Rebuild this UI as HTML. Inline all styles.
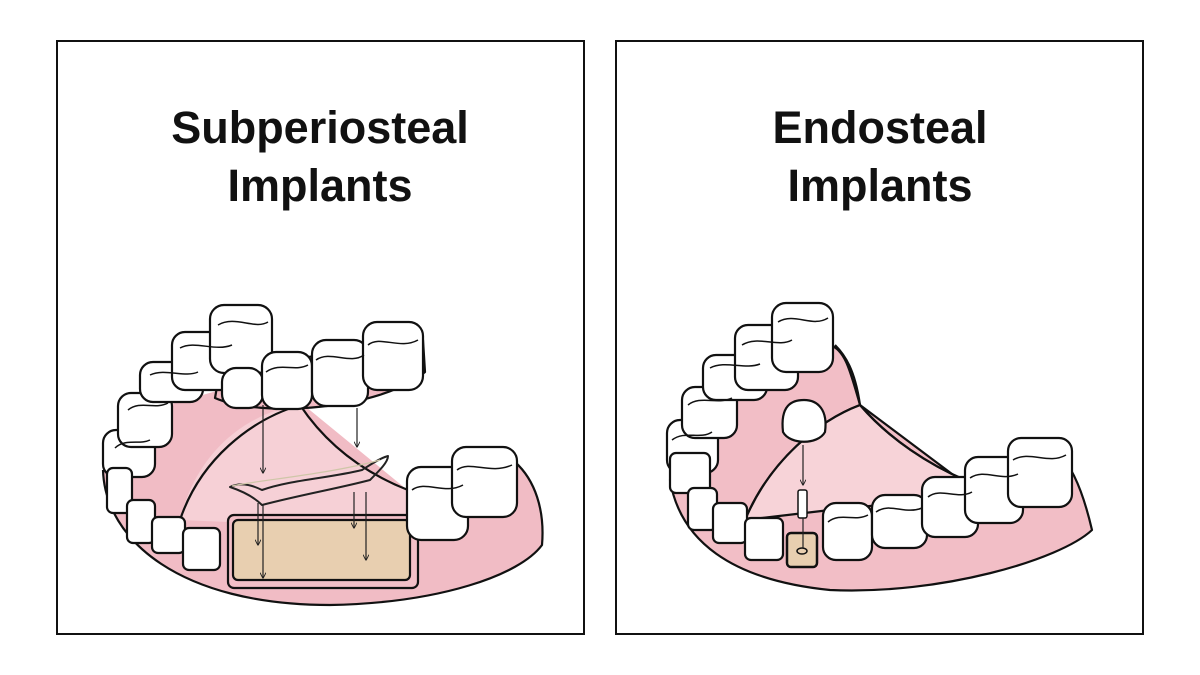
<!DOCTYPE html>
<html><head><meta charset="utf-8"><style>
html,body{margin:0;padding:0;background:#fff}
svg{display:block}
</style></head><body>
<svg width="1200" height="675" viewBox="0 0 1200 675" xmlns="http://www.w3.org/2000/svg">
<defs>
<marker id="a" viewBox="0 0 10 10" refX="9" refY="5" markerWidth="5" markerHeight="5" orient="auto"><path d="M0,0 L10,5 L0,10" fill="none" stroke="#222" stroke-width="1.5"/></marker>
</defs>
<rect x="57" y="41" width="527" height="593" fill="#fff" stroke="#111" stroke-width="2"/>
<rect x="616" y="41" width="527" height="593" fill="#fff" stroke="#111" stroke-width="2"/>
<g font-family="'Liberation Sans',sans-serif" font-weight="bold" font-size="45" text-anchor="middle" fill="#111">
<text x="320" y="143">Subperiosteal</text><text x="320" y="201">Implants</text>
<text x="880" y="143">Endosteal</text><text x="880" y="201">Implants</text>
</g>
<g stroke="#111" stroke-width="2.2" stroke-linejoin="round">
<!-- LEFT -->
<path d="M103,470 C105,540 180,605 330,605 C440,603 520,575 542,545 C545,510 535,480 515,462 L405,488 L300,402 L220,390 L150,410 L103,440 Z" fill="#f1bcc5" stroke="none"/>
<path d="M103,470 C105,540 180,605 330,605 C440,603 520,575 542,545 C545,510 535,480 515,462" fill="none"/>
<path d="M180,520 C200,440 260,410 300,405 C340,460 380,480 410,490 L405,525 L228,522 Z" fill="#f6d0d6" stroke="none"/>
<path d="M180,520 C200,460 250,420 300,405" fill="none"/>
<path d="M300,405 C330,450 370,475 408,490" fill="none"/>
<path d="M215,398 C260,418 380,410 425,372 L423,340 L220,370 Z" fill="#f1bac3"/>
<rect x="228" y="515" width="190" height="73" rx="6" fill="#f2bfc7"/>
<rect x="233" y="520" width="177" height="60" rx="5" fill="#e8cfb0"/>
<g fill="none" stroke="#222" stroke-width="2">
<path d="M230,487 C245,492 255,498 262,505 C300,495 340,488 370,480 C380,470 388,462 388,456 C380,458 370,465 362,470 C330,478 290,480 262,490 C252,485 240,482 230,487 Z"/>
<path d="M232,486 C260,480 330,474 380,460" stroke="#cfc6a8" stroke-width="1.2"/>
</g>
<g fill="#fff">
<rect x="103" y="430" width="52" height="47" rx="13"/>
<rect x="118" y="393" width="54" height="54" rx="13"/>
<rect x="140" y="362" width="63" height="40" rx="13"/>
<rect x="172" y="332" width="65" height="58" rx="13"/>
<rect x="210" y="305" width="62" height="68" rx="14"/>
<rect x="222" y="368" width="41" height="40" rx="14"/>
<rect x="262" y="352" width="50" height="57" rx="14"/>
<rect x="312" y="340" width="56" height="66" rx="14"/>
<rect x="363" y="322" width="60" height="68" rx="14"/>
<rect x="107" y="468" width="25" height="45" rx="6"/>
<rect x="127" y="500" width="28" height="43" rx="6"/>
<rect x="152" y="517" width="33" height="36" rx="6"/>
<rect x="183" y="528" width="37" height="42" rx="6"/>
<rect x="407" y="467" width="61" height="73" rx="14"/>
<rect x="452" y="447" width="65" height="70" rx="14"/>
</g>
<g fill="none" stroke-width="1.5">
<path d="M115,448 C125,438 140,445 150,440"/><path d="M128,410 C140,400 155,410 168,403"/><path d="M150,375 C165,368 185,378 198,372"/><path d="M180,348 C195,340 215,352 232,345"/><path d="M218,325 C235,315 255,330 268,322"/><path d="M266,372 C280,362 295,372 308,365"/><path d="M316,360 C330,350 350,365 364,355"/><path d="M368,345 C380,335 400,350 418,340"/><path d="M412,490 C425,480 445,495 463,485"/><path d="M457,470 C470,460 490,475 512,465"/>
</g>
<g stroke="#222" stroke-width="1.2" fill="none" marker-end="url(#a)">
<line x1="263" y1="405" x2="263" y2="473"/><line x1="357" y1="408" x2="357" y2="447"/>
<line x1="258" y1="503" x2="258" y2="545"/><line x1="263" y1="505" x2="263" y2="578"/>
<line x1="354" y1="492" x2="354" y2="528"/><line x1="366" y1="492" x2="366" y2="560"/>
</g>
<!-- RIGHT -->
<path d="M670,480 C680,540 730,580 830,590 C940,595 1060,560 1092,530 C1085,500 1075,470 1060,455 L960,480 L860,405 C850,370 845,350 830,345 L700,420 Z" fill="#f2bec6"/>
<path d="M745,520 C770,460 820,420 860,405 C890,440 930,465 965,480 L930,500 L830,510 Z" fill="#f7d3d8"/>
<path d="M745,520 C770,460 820,420 860,405 C855,370 845,355 835,345" fill="none"/>
<path d="M860,405 C890,440 930,465 965,480" fill="none"/>
<g fill="#fff">
<rect x="667" y="420" width="51" height="53" rx="13"/>
<rect x="682" y="387" width="55" height="51" rx="13"/>
<rect x="703" y="355" width="64" height="45" rx="13"/>
<rect x="735" y="325" width="63" height="65" rx="13"/>
<rect x="772" y="303" width="61" height="69" rx="14"/>
<rect x="670" y="453" width="40" height="40" rx="6"/>
<rect x="688" y="488" width="29" height="42" rx="6"/>
<rect x="713" y="503" width="34" height="40" rx="6"/>
<rect x="745" y="518" width="38" height="42" rx="6"/>
<rect x="823" y="503" width="49" height="57" rx="13"/>
<rect x="872" y="495" width="55" height="53" rx="13"/>
<rect x="922" y="477" width="56" height="60" rx="13"/>
<rect x="965" y="457" width="58" height="66" rx="13"/>
<rect x="1008" y="438" width="64" height="69" rx="13"/>
<path d="M783,432 C780,405 792,400 804,400 C818,400 828,410 825,432 C818,445 790,445 783,432 Z"/>
</g>
<rect x="787" y="533" width="30" height="34" rx="4" fill="#e8cfb0" stroke-width="2.5"/>
<ellipse cx="802" cy="551" rx="5" ry="3" fill="none" stroke-width="1.5"/>
<rect x="798" y="490" width="9" height="28" rx="2" fill="#fff" stroke-width="1.5"/>
<g fill="none" stroke-width="1.5">
<path d="M672,440 C685,430 700,440 712,432"/><path d="M688,405 C700,395 718,405 732,398"/><path d="M710,368 C725,360 745,370 760,364"/><path d="M742,345 C758,335 778,348 792,340"/><path d="M778,322 C795,312 812,328 828,318"/><path d="M828,522 C840,512 855,522 868,515"/><path d="M876,512 C890,502 905,515 922,508"/><path d="M928,497 C940,487 958,500 972,492"/><path d="M970,478 C985,468 1000,482 1018,474"/><path d="M1013,460 C1030,450 1048,465 1066,455"/>
</g>
<g stroke="#222" stroke-width="1.2" fill="none">
<line x1="803" y1="445" x2="803" y2="485" marker-end="url(#a)"/>
<line x1="803" y1="518" x2="803" y2="548"/>
</g>
</g>
</svg>
</body></html>
